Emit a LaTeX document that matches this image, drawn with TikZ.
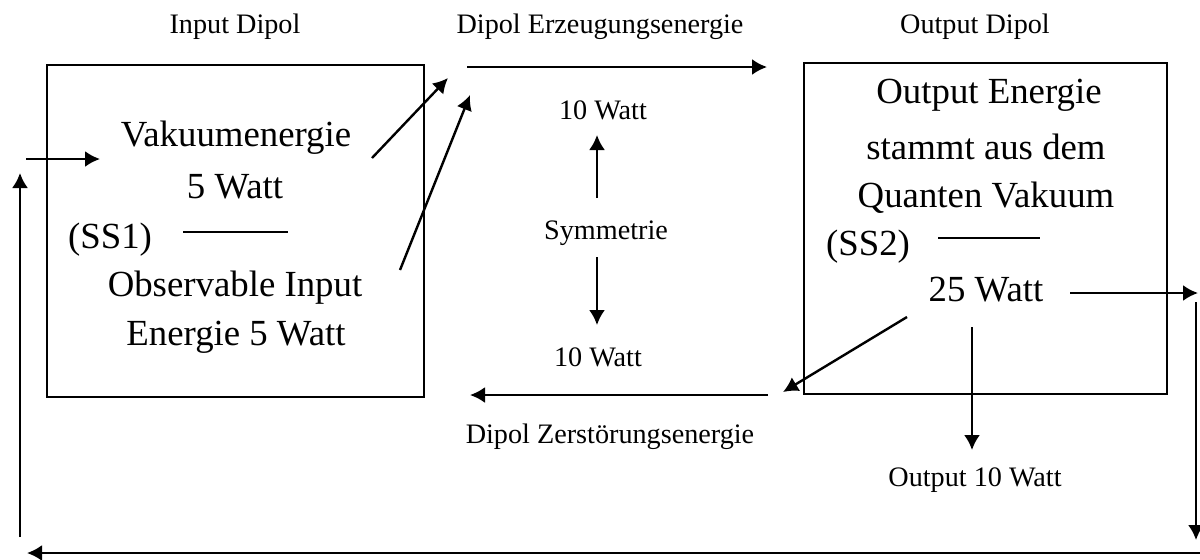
\documentclass[tikz,border=0pt]{standalone}
\usepackage{fontspec}
\setmainfont{Liberation Serif}
\usetikzlibrary{arrows.meta}

\begin{document}
\begin{tikzpicture}[x=0.5pt,y=-0.5pt,line width=1.2pt,-{Latex[length=7.5pt,width=8pt]}]
  \tikzstyle{small}=[font=\fontsize{14.1}{17}\selectfont,inner sep=1pt]
  \tikzstyle{big}=[font=\fontsize{18.4}{22}\selectfont,inner sep=1pt]
  \tikzstyle{dipol}=[draw,line width=0.8pt]
  \useasboundingbox (0,0) rectangle (1200,559);

  % the two dipoles
  \node[dipol, minimum width=188.5pt, minimum height=166pt] (inbox) at (235.5,231) {};
  \node[dipol, minimum width=181.5pt, minimum height=165.5pt] (outbox) at (985.5,228.5) {};

  \node[small] (inlbl) at (235,27) {Input Dipol};
  \node[small] (erzlbl) at (600,27) {Dipol Erzeugungsenergie};
  \node[small] (outlbl) at (975,27) {Output Dipol};

  \node[big] (vak) at (236,138) {Vakuumenergie};
  \node[big] (vakw) at (235,187) {5 Watt};
  \node[big] (ss1) at (110,240) {(SS1)};
  \node[big] (obs) at (235,288) {Observable Input};
  \node[big] (obsw) at (236,337) {Energie 5 Watt};

  \node[big] (oe) at (989,95) {Output Energie};
  \node[big] (st) at (986,147) {stammt aus dem};
  \node[big] (qv) at (986,198) {Quanten Vakuum};
  \node[big] (ss2) at (868,247) {(SS2)};
  \node[big] (w25) at (986,290) {25 Watt};

  \node[small] (wtop) at (603,110) {10 Watt};
  \node[small] (sym) at (606,233) {Symmetrie};
  \node[small] (wbot) at (598,357) {10 Watt};
  \node[small] (zer) at (610,437) {Dipol Zerstörungsenergie};
  \node[small] (out10) at (975,480) {Output 10 Watt};

  % fraction lines
  \coordinate (f1a) at (183,232); \coordinate (f1b) at (288,232);
  \coordinate (f2a) at (938,238); \coordinate (f2b) at (1040,238);
  \draw[-, line width=0.8pt] (f1a) -- (f1b);
  \draw[-, line width=0.8pt] (f2a) -- (f2b);

  % arrow ends
  \coordinate (c1) at (20,537);  \coordinate (c2) at (20,173);
  \coordinate (c3) at (26,159);  \coordinate (c4) at (100,159);
  \coordinate (c5) at (1196,302); \coordinate (c6) at (1196,540);
  \coordinate (c7) at (1200,553); \coordinate (c8) at (27,553);
  \coordinate (d1) at (372,158); \coordinate (d2) at (448,78);
  \coordinate (d3) at (400,270); \coordinate (d4) at (470,95);
  \coordinate (t1) at (467,67);  \coordinate (t2) at (767,67);
  \coordinate (b1) at (768,395); \coordinate (b2) at (470,395);
  \coordinate (u1) at (597,198); \coordinate (u2) at (597,135);
  \coordinate (u3) at (597,257); \coordinate (u4) at (597,325);
  \coordinate (r1) at (1070,293); \coordinate (r2) at (1198,293);
  \coordinate (g1) at (907,317); \coordinate (g2) at (783,392);
  \coordinate (v1) at (972,327); \coordinate (v2) at (972,450);

  \draw (c1) -- (c2);
  \draw (c3) -- (c4);
  \draw (c5) -- (c6);
  \draw (c7) -- (c8);
  \draw (d1) -- (d2);
  \draw (d3) -- (d4);
  \draw (t1) -- (t2);
  \draw (b1) -- (b2);
  \draw (u1) -- (u2);
  \draw (u3) -- (u4);
  \draw (r1) -- (r2);
  \draw (g1) -- (g2);
  \draw (v1) -- (v2);
\end{tikzpicture}
\end{document}
